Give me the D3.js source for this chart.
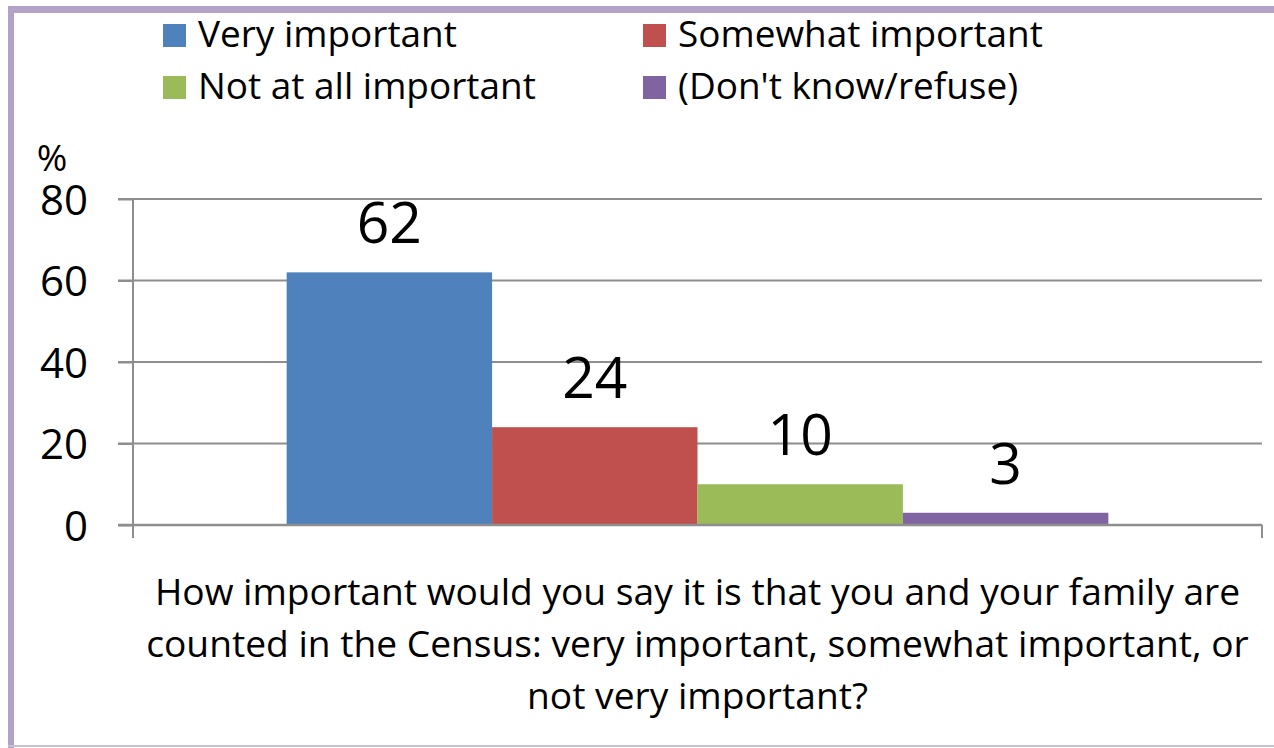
<!DOCTYPE html>
<html>
<head>
<meta charset="utf-8">
<script src="https://cdn.jsdelivr.net/npm/d3@7"></script>
<style>
  html, body { margin: 0; padding: 0; background: #ffffff; }
  svg { display: block; }
  text { font-family: "Open Sans", "Noto Sans", sans-serif; fill: #000; }
</style>
</head>
<body>
<svg id="chart" width="1274" height="748"></svg>
<script>
// ---- data ----
const categories = ["How important would you say it is that you and your family are counted in the Census: very important, somewhat important, or not very important?"];
const seriesNames = ["Very important", "Somewhat important", "Not at all important", "(Don't know/refuse)"];
const seriesValues = [62, 24, 10, 3];
const seriesColors = ["#4F81BD", "#C0504D", "#9BBB59", "#8064A2"];
const yTicks = [0, 20, 40, 60, 80];
const titleLines = [
  "How important would you say it is that you and your family are",
  "counted in the Census: very important, somewhat important, or",
  "not very important?"
];
const yUnit = "%";

// ---- layout ----
const W = 1274, H = 748;
const plot = { left: 133, right: 1262, top: 199, bottom: 525 };
const svg = d3.select("#chart");

// frame
svg.append("rect").attr("x", 0).attr("y", 0).attr("width", W).attr("height", H).attr("fill", "#fff");
svg.append("line").attr("x1", 8).attr("x2", W).attr("y1", 9.5).attr("y2", 9.5)
  .attr("stroke", "#B3A2C7").attr("stroke-width", 7);
svg.append("line").attr("x1", 11).attr("x2", 11).attr("y1", 6).attr("y2", H)
  .attr("stroke", "#B3A2C7").attr("stroke-width", 6);
svg.append("line").attr("x1", 8).attr("x2", W).attr("y1", 746).attr("y2", 746)
  .attr("stroke", "#C8C0D4").attr("stroke-width", 2);

// scales
const y = d3.scaleLinear().domain([0, 80]).range([plot.bottom, plot.top]);
const x0 = d3.scaleBand().domain(categories).range([plot.left, plot.right])
  .paddingInner(0).paddingOuter(0.187);
const x1 = d3.scaleBand().domain(seriesNames).range([0, x0.bandwidth()]).padding(0);

// gridlines
const gridG = svg.append("g");
gridG.selectAll("line").data(yTicks.filter(d => d > 0)).join("line")
  .attr("x1", plot.left - 15).attr("x2", plot.right)
  .attr("y1", d => y(d)).attr("y2", d => y(d))
  .attr("stroke", "#8E8E8E").attr("stroke-width", 2);

// y axis labels + tick marks
const yAxis = d3.axisLeft(y).tickValues(yTicks).tickSize(15).tickPadding(0).tickFormat(d3.format("d"));
const yAxisG = svg.append("g").attr("transform", `translate(${plot.left},0)`).call(yAxis);
yAxisG.select(".domain").remove();
yAxisG.selectAll(".tick line").attr("stroke", "#8E8E8E").attr("stroke-width", 2);
yAxisG.selectAll(".tick text")
  .attr("x", 88 - plot.left).attr("text-anchor", "end")
  .attr("dy", "0.36em")
  .style("font-family", "'Open Sans', sans-serif")
  .style("font-size", "42px").attr("fill", "#000");

// unit label
svg.append("text").attr("x", 52).attr("y", 171).attr("text-anchor", "middle")
  .style("font-size", "37px").text(yUnit);

// bars
const barG = svg.append("g").attr("transform", `translate(${x0(categories[0])},0)`);
barG.selectAll("rect").data(seriesValues).join("rect")
  .attr("x", (d, i) => x1(seriesNames[i]))
  .attr("width", x1.bandwidth())
  .attr("y", d => y(d))
  .attr("height", d => y(0) - y(d))
  .attr("fill", (d, i) => seriesColors[i]);

// value labels
barG.selectAll("text").data(seriesValues).join("text")
  .attr("x", (d, i) => x1(seriesNames[i]) + x1.bandwidth() / 2)
  .attr("y", d => y(d) - 29)
  .attr("text-anchor", "middle")
  .style("font-size", "57px")
  .text(d => d);

// axes lines
svg.append("line").attr("x1", plot.left).attr("x2", plot.left)
  .attr("y1", plot.top).attr("y2", plot.bottom + 13)
  .attr("stroke", "#8E8E8E").attr("stroke-width", 2);
svg.append("line").attr("x1", plot.left - 15).attr("x2", plot.right)
  .attr("y1", plot.bottom).attr("y2", plot.bottom)
  .attr("stroke", "#8E8E8E").attr("stroke-width", 2.5);
svg.append("line").attr("x1", plot.right).attr("x2", plot.right)
  .attr("y1", plot.bottom).attr("y2", plot.bottom + 13)
  .attr("stroke", "#8E8E8E").attr("stroke-width", 2);

// legend
const legendItems = [
  { name: seriesNames[0], color: seriesColors[0], sx: 163, row: 0 },
  { name: seriesNames[1], color: seriesColors[1], sx: 643, row: 0 },
  { name: seriesNames[2], color: seriesColors[2], sx: 163, row: 1 },
  { name: seriesNames[3], color: seriesColors[3], sx: 643, row: 1 }
];
const rowY = [24, 76];
const legG = svg.append("g");
const leg = legG.selectAll("g").data(legendItems).join("g");
leg.append("rect")
  .attr("x", d => d.sx).attr("y", d => rowY[d.row])
  .attr("width", 23).attr("height", 23).attr("fill", d => d.color);
const legText = leg.append("text")
  .attr("x", d => d.sx + 35).attr("y", d => rowY[d.row] + 23)
  .style("font-size", "100px")
  .text(d => d.name);
{
  const probe = legText.filter(d => d.name === seriesNames[1]).node();
  const w = probe.getComputedTextLength();
  const fs = 100 * 365 / w;
  legText.style("font-size", fs + "px");
}

// category title (x-axis label)
const titleG = svg.append("g");
const cx = (plot.left + plot.right) / 2;
const tLines = titleG.selectAll("text").data(titleLines).join("text")
  .attr("x", cx).attr("y", (d, i) => 605 + i * 52)
  .attr("text-anchor", "middle")
  .style("font-size", "100px")
  .text(d => d);
{
  const probe = tLines.filter((d, i) => i === 1).node();
  const w = probe.getComputedTextLength();
  const fs = 100 * 1103 / w;
  tLines.style("font-size", fs + "px");
}
</script>
</body>
</html>
